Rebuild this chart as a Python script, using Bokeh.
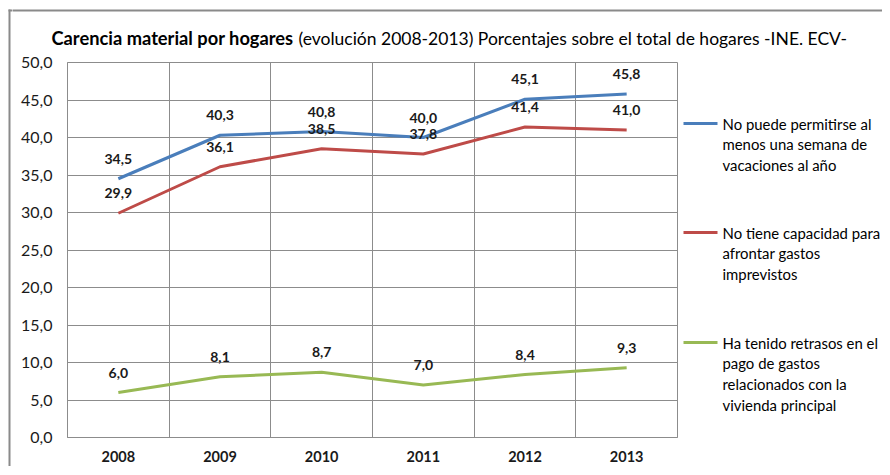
from bokeh.plotting import figure
from bokeh.models import ColumnDataSource, LabelSet, FixedTicker, Range1d
from bokeh.layouts import column, row
from bokeh.core.properties import value
from bokeh.embed import file_html
from bokeh.resources import INLINE

# ---- data ----
years = ["2008", "2009", "2010", "2011", "2012", "2013"]
vacaciones = [34.5, 40.3, 40.8, 40.0, 45.1, 45.8]
imprevistos = [29.9, 36.1, 38.5, 37.8, 41.4, 41.0]
retrasos = [6.0, 8.1, 8.7, 7.0, 8.4, 9.3]
y_ticks = [0, 5, 10, 15, 20, 25, 30, 35, 40, 45, 50]

series_names = [
    ["No puede permitirse al", "menos una semana de", "vacaciones al año"],
    ["No tiene capacidad para", "afrontar gastos", "imprevistos"],
    ["Ha tenido retrasos en el", "pago de gastos", "relacionados con la", "vivienda principal"],
]
title_bold = "Carencia material por hogares"
title_rest = "(evolución  2008-2013) Porcentajes sobre el total de hogares -INE. ECV-"

# ---- style / layout ----
colors = ["#4A7EBB", "#BE4B48", "#98B954"]
FONT = "Lato"
GRID = "#8C8C8C"
BORDER = "#8A8A8A"

W, H = 882, 466
HEAD_H = 50
STRIP_W = 12
FRAME_L, FRAME_T = 67, 62
FRAME_W, FRAME_H = 610, 375
MB_L = FRAME_L - STRIP_W
MB_T = FRAME_T - HEAD_H
MB_R = 1
MB_B = H - FRAME_T - FRAME_H
MAIN_W = MB_L + FRAME_W + MB_R
LEG_X0 = STRIP_W + MAIN_W
LEG_W = W - LEG_X0


def blank(fw, fh, x0, x1, y0, y1, mt=0, mb=0):
    f = figure(frame_width=fw, frame_height=fh, title=None,
               output_backend="svg", toolbar_location=None,
               x_range=Range1d(x0, x1), y_range=Range1d(y0, y1),
               x_axis_location=None, y_axis_location=None,
               min_border=0, min_border_left=0, min_border_right=0,
               min_border_top=mt, min_border_bottom=mb,
               background_fill_color="white", border_fill_color="white")
    f.outline_line_color = None
    f.grid.visible = False
    return f


# left strip: outer chart border (coordinates = pixels of the picture)
strip = blank(STRIP_W, H, 0, STRIP_W, H, 0)
strip.segment(x0=[9, 8], y0=[9, 10], x1=[9, STRIP_W + 1], y1=[H + 5, 10],
              line_color=BORDER, line_width=2)

# title strip
head = blank(W - STRIP_W, HEAD_H, STRIP_W, W, HEAD_H, 0)
head.segment(x0=[STRIP_W - 1], y0=[10], x1=[W + 5], y1=[10], line_color=BORDER, line_width=2)
head.text(x=[51], y=[37.5], text=[title_bold], text_font=value(FONT),
          text_font_style="bold", text_font_size="18.3px",
          text_baseline="middle", text_color="#000000")
head.text(x=[298], y=[37.5], text=[title_rest], text_font=value(FONT),
          text_font_size="17.5px", text_baseline="middle", text_color="#000000")

# ---- main chart ----
p = figure(frame_width=FRAME_W, frame_height=FRAME_H, title=None,
           output_backend="svg", toolbar_location=None,
           x_range=Range1d(0, len(years)), y_range=Range1d(0, 50),
           min_border_left=MB_L, min_border_right=MB_R,
           min_border_top=MB_T, min_border_bottom=MB_B,
           background_fill_color="white", border_fill_color="white")
p.outline_line_color = GRID
p.outline_line_width = 1

xs = [i + 0.5 for i in range(len(years))]

p.xaxis.ticker = FixedTicker(ticks=xs)
p.xaxis.major_label_overrides = {x: y for x, y in zip(xs, years)}
p.xaxis.major_label_text_font = FONT
p.xaxis.major_label_text_font_style = "bold"
p.xaxis.major_label_text_font_size = "14.5px"
p.xaxis.major_label_text_color = "#1a1a1a"
p.xaxis.major_label_standoff = 13
p.xaxis.major_tick_out = 0
p.xaxis.major_tick_in = 0
p.xaxis.minor_tick_out = 0
p.xaxis.axis_line_color = GRID

p.yaxis.ticker = FixedTicker(ticks=y_ticks)
p.yaxis.major_label_overrides = {t: f"{t:.1f}".replace(".", ",") for t in y_ticks}
p.yaxis.major_label_text_font = FONT
p.yaxis.major_label_text_font_size = "16px"
p.yaxis.major_label_text_color = "#1a1a1a"
p.yaxis.major_label_standoff = 15
p.yaxis.major_tick_out = 0
p.yaxis.major_tick_in = 0
p.yaxis.minor_tick_out = 0
p.yaxis.minor_tick_in = 0
p.yaxis.axis_line_color = GRID

p.xgrid.ticker = FixedTicker(ticks=list(range(1, len(years))))
p.xgrid.grid_line_color = GRID
p.ygrid.ticker = FixedTicker(ticks=y_ticks[1:])
p.ygrid.grid_line_color = GRID

for vals, col in zip([vacaciones, imprevistos, retrasos], colors):
    src = ColumnDataSource(dict(x=xs, y=vals,
                                txt=[f"{v:.1f}".replace(".", ",") for v in vals]))
    p.line("x", "y", source=src, line_color=col, line_width=3)
    p.add_layout(LabelSet(x="x", y="y", text="txt", source=src, y_offset=20,
                          text_align="center", text_baseline="middle",
                          text_font=value(FONT), text_font_style="bold",
                          text_font_size="14px", text_color="#1a1a1a"))

# ---- legend (frame aligned with the chart frame; coordinates = pixels of the picture) ----
leg = blank(LEG_W, FRAME_H, LEG_X0, W, FRAME_T + FRAME_H, FRAME_T, mt=MB_T, mb=MB_B)
leg_tops = [123, 232, 342]
for lines, col, y0 in zip(series_names, colors, leg_tops):
    leg.segment(x0=[683], y0=[y0], x1=[717], y1=[y0], line_color=col, line_width=3)
    leg.text(x=[722] * len(lines), y=[y0 + k * 20.7 for k in range(len(lines))],
             text=lines, text_font=value(FONT), text_font_size="14.9px",
             text_baseline="middle", text_color="#000000")

layout = row(strip, column(head, row(p, leg, spacing=0), spacing=0), spacing=0)
open("out.html", "w").write(file_html(layout, INLINE))
